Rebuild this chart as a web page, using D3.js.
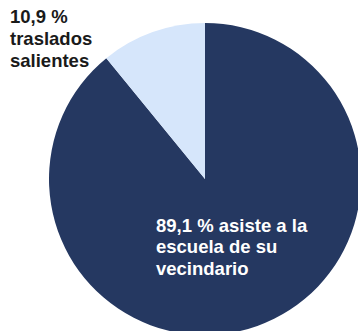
<!DOCTYPE html>
<html>
<head>
	<meta charset="utf-8">
	<script src="https://d3js.org/d3.v7.min.js"></script>
	<style type="text/css">
		body { margin:0; background:#fff; }
		text { font-family:"Liberation Sans", Arial, sans-serif; font-weight:bold; font-size:18.5px; }
	</style>
</head>
<body>
	<script>
		// datos
		var categorias = ["asiste a la escuela de su vecindario", "traslados salientes"];
		var valores = [89.1, 10.9];
		var colores = ["#253861", "#D6E6FB"];
		var etiquetaVecindario = ["89,1 % asiste a la", "escuela de su", "vecindario"];
		var etiquetaTraslados = ["10,9 %", "traslados", "salientes"];

		var w = 358, h = 331;
		var cx = 205, cy = 179, r = 156;

		var svg = d3.select("body").append("svg")
			.attr("width", w)
			.attr("height", h);

		var pie = d3.pie().sort(null).value(function(d){ return d; });
		var arc = d3.arc().innerRadius(0).outerRadius(r);

		var g = svg.append("g").attr("transform", "translate(" + cx + "," + cy + ")");
		g.selectAll("path")
			.data(pie(valores))
			.enter().append("path")
			.attr("d", arc)
			.attr("fill", function(d, i){ return colores[i]; });

		// etiqueta blanca dentro del sector grande
		var t1 = svg.append("text").attr("x", 156).attr("y", 231.5).attr("fill", "#fff");
		etiquetaVecindario.forEach(function(s, i){
			t1.append("tspan").attr("x", 156).attr("dy", i == 0 ? 0 : 21.7).text(s);
		});

		// etiqueta negra arriba a la izquierda
		var t2 = svg.append("text").attr("x", 10).attr("y", 23.3).attr("fill", "#1a1a1a");
		etiquetaTraslados.forEach(function(s, i){
			t2.append("tspan").attr("x", 10).attr("dy", i == 0 ? 0 : 21.7).text(s);
		});
	</script>
</body>
</html>
